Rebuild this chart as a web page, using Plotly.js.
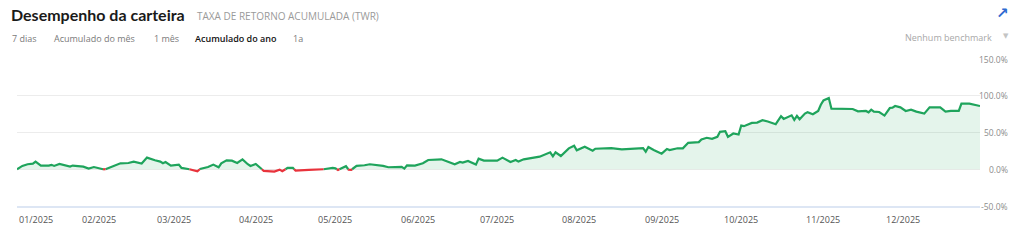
<!DOCTYPE html>
<html>
<head>
<meta charset="utf-8">
<script src="https://cdn.plot.ly/plotly-3.0.1.min.js"></script>
<style>
  html, body { margin: 0; padding: 0; background: #ffffff; }
  #chart { width: 1024px; height: 250px; }
</style>
</head>
<body>
<div id="chart"></div>
<script>
// ---- Data ----
const dates = [
  '2025-01-01','2025-01-03','2025-01-05','2025-01-07','2025-01-08','2025-01-10','2025-01-13','2025-01-14','2025-01-15','2025-01-17',
  '2025-01-21','2025-01-22','2025-01-26','2025-01-28','2025-01-30','2025-02-03','2025-02-05','2025-02-09','2025-02-12','2025-02-14',
  '2025-02-17','2025-02-19','2025-02-22','2025-02-24','2025-02-25','2025-02-26','2025-02-28','2025-03-03','2025-03-04','2025-03-06',
  '2025-03-10','2025-03-11','2025-03-14','2025-03-16','2025-03-18','2025-03-19','2025-03-21','2025-03-23','2025-03-25','2025-03-27',
  '2025-03-29','2025-03-30','2025-04-01','2025-04-02','2025-04-04','2025-04-08','2025-04-10','2025-04-11','2025-04-13','2025-04-15',
  '2025-04-16','2025-04-21','2025-04-23','2025-04-26','2025-04-30','2025-05-01','2025-05-02','2025-05-05','2025-05-06','2025-05-07',
  '2025-05-09','2025-05-12','2025-05-14','2025-05-19','2025-05-21','2025-05-26','2025-05-27','2025-05-28','2025-05-31','2025-06-03',
  '2025-06-05','2025-06-10','2025-06-15','2025-06-17','2025-06-18','2025-06-20','2025-06-23','2025-06-24','2025-06-26','2025-07-01',
  '2025-07-03','2025-07-06','2025-07-08','2025-07-09','2025-07-11','2025-07-17','2025-07-21','2025-07-22','2025-07-23','2025-07-25',
  '2025-07-28','2025-07-30','2025-07-31','2025-08-03','2025-08-06','2025-08-07','2025-08-13','2025-08-17','2025-08-25','2025-08-26',
  '2025-08-27','2025-08-29','2025-09-01','2025-09-03','2025-09-04','2025-09-07','2025-09-09','2025-09-11','2025-09-15','2025-09-16',
  '2025-09-18','2025-09-20','2025-09-22','2025-09-23','2025-09-25','2025-09-26','2025-09-28','2025-09-30','2025-10-01','2025-10-02',
  '2025-10-05','2025-10-07','2025-10-09','2025-10-11','2025-10-14','2025-10-16','2025-10-17','2025-10-20','2025-10-21','2025-10-22',
  '2025-10-23','2025-10-25','2025-10-26','2025-10-28','2025-10-30','2025-10-31','2025-11-01','2025-11-03','2025-11-04','2025-11-12',
  '2025-11-14','2025-11-17','2025-11-18','2025-11-19','2025-11-20','2025-11-22','2025-11-24','2025-11-26','2025-11-27','2025-11-28',
  '2025-11-30','2025-12-02','2025-12-04','2025-12-06','2025-12-09','2025-12-11','2025-12-15','2025-12-17','2025-12-19','2025-12-22',
  '2025-12-23','2025-12-26','2025-12-30'
];
const twr = [
  0.0, 4.5, 6.8, 7.6, 10.4, 5.0, 5.0, 6.0, 4.5, 7.2,
  3.6, 5.0, 3.6, 0.9, 3.0, -0.5, 2.3, 8.1, 8.5, 10.4,
  7.7, 15.8, 12.2, 10.4, 8.1, 9.9, 5.0, 6.3, 1.8, 0.9,
  -2.7, 0.3, 3.0, 6.3, 2.7, 8.1, 12.2, 11.7, 8.5, 13.5,
  6.8, 4.5, 7.2, 4.5, -2.3, -3.2, -0.5, -2.7, 1.8, 1.8,
  -1.8, -0.9, -0.9, -0.3, 1.8, 1.2, -0.9, 4.2, -0.7, -0.8,
  4.5, 5.4, 6.8, 4.5, 2.7, 3.2, 0.9, 5.4, 5.0, 8.1,
  12.6, 13.5, 6.8, 9.9, 9.0, 11.3, 6.3, 14.4, 11.7, 11.7,
  15.8, 9.9, 12.6, 10.4, 13.5, 17.1, 23.0, 17.6, 23.0, 18.0,
  28.4, 32.0, 25.7, 30.6, 25.2, 27.9, 28.8, 27.0, 28.8, 23.9,
  30.2, 26.1, 21.2, 27.5, 26.1, 28.6, 28.4, 36.0, 36.9, 40.5,
  42.8, 41.4, 44.1, 50.9, 51.8, 44.1, 48.6, 47.3, 59.5, 58.6,
  63.1, 63.5, 66.7, 64.9, 61.3, 72.1, 68.5, 73.4, 67.1, 72.5,
  68.0, 75.7, 77.5, 74.8, 79.3, 87.8, 93.7, 96.8, 82.4, 82.0,
  78.8, 79.3, 77.5, 81.1, 78.4, 77.9, 73.0, 83.3, 83.8, 86.0,
  84.2, 79.3, 81.1, 78.4, 75.7, 84.2, 84.2, 78.4, 79.3, 79.3,
  89.2, 89.2, 86.0
];
const monthTicks = ['2025-01-01','2025-02-01','2025-03-01','2025-04-01','2025-05-01','2025-06-01',
                    '2025-07-01','2025-08-01','2025-09-01','2025-10-01','2025-11-01','2025-12-01'];
const monthLabels = ['01/2025','02/2025','03/2025','04/2025','05/2025','06/2025',
                     '07/2025','08/2025','09/2025','10/2025','11/2025','12/2025'];
const yTicks = [-50, 0, 50, 100, 150];
const yLabels = ['-50.0%', '0.0%', '50.0%', '100.0%', '150.0%'];
const tabs = ['7 dias', 'Acumulado do mês', '1 mês', 'Acumulado do ano', '1a'];
const activeTab = 'Acumulado do ano';

// ---- Split the series into positive (green) and negative (red) parts ----
const xs = dates.map(d => Date.parse(d));
const posX = [], posY = [], negX = [], negY = [];
for (let i = 0; i < xs.length; i++) {
  const v = twr[i];
  if (i > 0) {
    const p = twr[i - 1];
    if ((p >= 0) !== (v >= 0)) {
      const t = p / (p - v);
      const xc = xs[i - 1] + t * (xs[i] - xs[i - 1]);
      posX.push(xc); posY.push(0);
      negX.push(xc); negY.push(0);
    }
  }
  if (v >= 0) { posX.push(xs[i]); posY.push(v); negX.push(xs[i]); negY.push(null); }
  else { negX.push(xs[i]); negY.push(v); posX.push(xs[i]); posY.push(null); }
}

const GREEN = '#1fa45c', RED = '#e8333c';
const traces = [
  { x: posX, y: posY, type: 'scatter', mode: 'lines', connectgaps: false,
    line: { color: GREEN, width: 2.2, shape: 'linear' }, fill: 'tozeroy',
    fillcolor: 'rgba(31,164,92,0.12)', hoverinfo: 'skip' },
  { x: negX, y: negY, type: 'scatter', mode: 'lines', connectgaps: false,
    line: { color: RED, width: 2.2, shape: 'linear' }, fill: 'tozeroy',
    fillcolor: 'rgba(232,51,60,0.12)', hoverinfo: 'skip' }
];

// ---- Geometry helpers (pixel -> paper) ----
const L = 17, R = 44, T = 59, B = 44, W = 1024, H = 250;
const PW = W - L - R, PH = H - T - B;
const px = v => (v - L) / PW;
const py = v => (H - B - v) / PH;

const FONT = '"Open Sans", "Noto Sans", sans-serif';
const ann = [];
ann.push({ text: 'Desempenho da carteira', xref: 'paper', yref: 'paper', x: px(9), y: py(14),
  xanchor: 'left', yanchor: 'middle', showarrow: false,
  font: { family: 'Lato, "Open Sans", sans-serif', size: 16, color: '#1a1a1a', weight: 700 } });
ann.push({ text: 'TAXA DE RETORNO ACUMULADA (TWR)', xref: 'paper', yref: 'paper', x: px(195), y: py(15.5),
  xanchor: 'left', yanchor: 'middle', showarrow: false,
  font: { family: FONT, size: 10, color: '#9a9a9a' } });
ann.push({ text: '↗', xref: 'paper', yref: 'paper', x: px(1011), y: py(12.5),
  xanchor: 'right', yanchor: 'middle', showarrow: false,
  font: { family: 'DejaVu Sans, sans-serif', size: 15, color: '#2f6bd0', weight: 700 } });
const tabX = [10, 52, 152, 193, 291];
tabs.forEach((t, i) => {
  const on = t === activeTab;
  ann.push({ text: t, xref: 'paper', yref: 'paper', x: px(tabX[i]), y: py(38),
    xanchor: 'left', yanchor: 'middle', showarrow: false,
    font: { family: FONT, size: 9, color: on ? '#111111' : '#7a7a7a', weight: on ? 600 : 400 } });
});
ann.push({ text: 'Nenhum benchmark', xref: 'paper', yref: 'paper', x: px(994), y: py(37.5),
  xanchor: 'right', yanchor: 'middle', showarrow: false,
  font: { family: FONT, size: 9, color: '#a8a8a8' } });
ann.push({ text: '▼', xref: 'paper', yref: 'paper', x: px(1011), y: py(36),
  xanchor: 'right', yanchor: 'middle', showarrow: false,
  font: { family: 'DejaVu Sans, sans-serif', size: 7, color: '#c4c4c4' } });
yTicks.forEach((v, i) => {
  ann.push({ text: yLabels[i], xref: 'paper', yref: 'y', x: px(1010), y: v,
    xanchor: 'right', yanchor: 'middle', showarrow: false,
    font: { family: FONT, size: 8.5, color: '#8c8c8c' } });
});
monthTicks.forEach((d, i) => {
  ann.push({ text: monthLabels[i], xref: 'x', yref: 'paper', x: d, y: py(219),
    xanchor: i === 0 ? 'left' : 'center', yanchor: 'middle', showarrow: false,
    font: { family: FONT, size: 9, color: '#555555' } });
});

const layout = {
  width: W, height: H,
  margin: { l: L, r: R, t: T, b: B, pad: 0 },
  paper_bgcolor: '#ffffff', plot_bgcolor: '#ffffff',
  showlegend: false,
  xaxis: { type: 'date', range: [dates[0], dates[dates.length - 1]], showgrid: false,
    showticklabels: false, ticks: '', zeroline: false,
    showline: true, linecolor: '#dde6f4', linewidth: 2, fixedrange: true },
  yaxis: { range: [-50, 150], tickvals: yTicks, showticklabels: false, ticks: '',
    showgrid: true, gridcolor: '#ececec', gridwidth: 1, zeroline: false, fixedrange: true },
  annotations: ann,
  hovermode: false
};

Plotly.newPlot('chart', traces, layout, { displayModeBar: false, staticPlot: true });
</script>
</body>
</html>
